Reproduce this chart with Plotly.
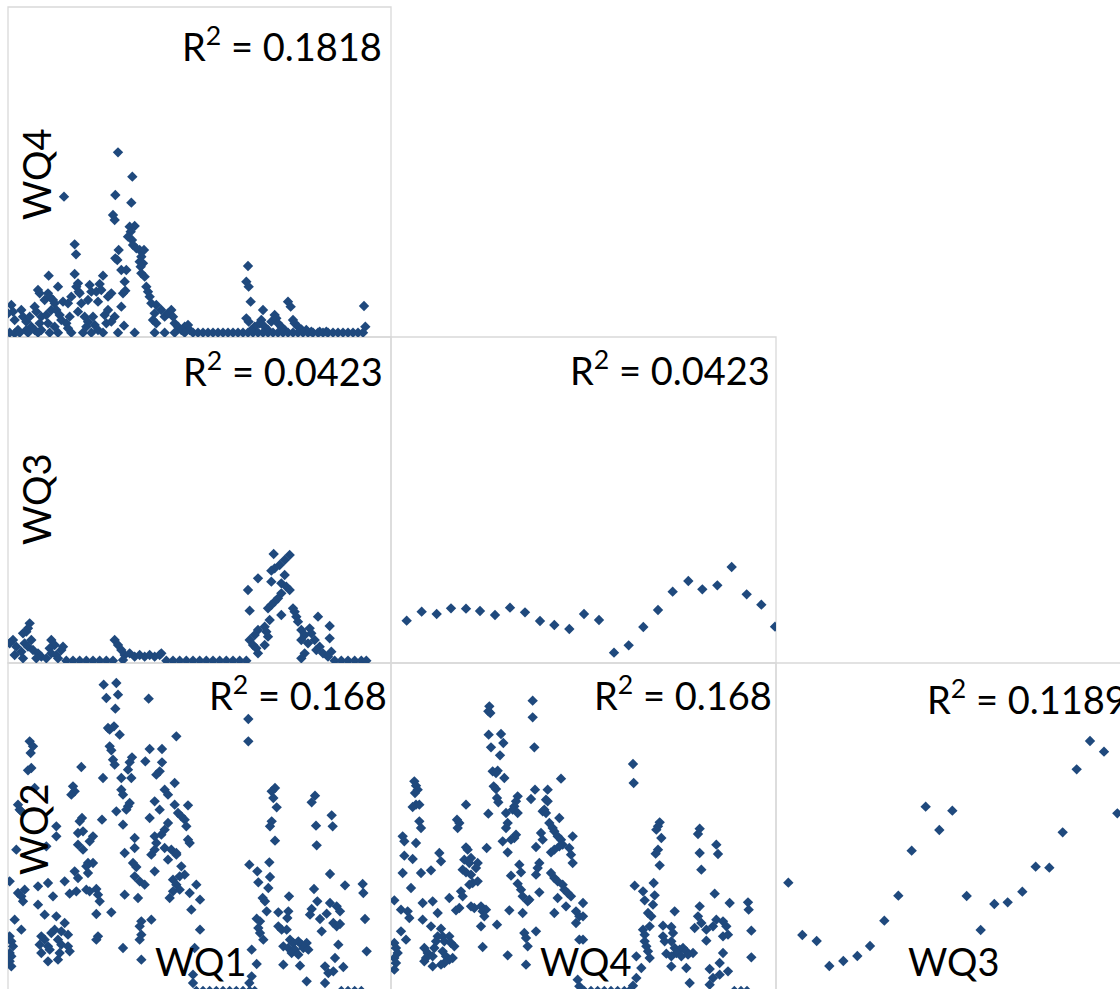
import plotly.graph_objects as go

# ---------------- data (arbitrary units) ----------------
# Panel WQ1 (x) vs WQ4 (y)
wq1_a = [330,373,168,322,370,315,320,
         365,380,368,360,372,375,385,395,408,400,395,405,398,400,410,
         200,204,332,322,328,200,210,205,212,122,150,
         285,275,245,250,265,280,340,355,350,345,352,340,348,
         90,95,120,125,110,135,140,165,180,190,215,220,240,270,300,310,
         415,420,425,430,445,440,435,445,460,470,480,490,495,500,510,520,530,540,545,
         10,15,0,20,40,45,55,65,70,80,85,100,95,100,30,20,115,130,145,155,160,175,180,185,
         210,230,240,235,255,260,270,290,295,300,320,310,120,140,55,80,
         720,715,722,728,715,722,740,730,765,760,755,770,780,790,800,805,810,820,830,
         840,848,855,860,870,880,895,910,935,955,1068,1072,
         555,570,585,600,615,630,645,660,675,690,705,720,735,750,765,780,795,810,825,840,
         855,870,885,900,915,930,945,960,975,990,1005,1020,1035,1050,1065,
         5,35,60,90,125,150,190,225,250,285,330,380,440,470,500,530]
wq4_a = [554,481,421,426,403,366,351,
         331,333,316,301,291,276,266,261,261,241,226,221,211,191,181,
         278,248,261,236,231,189,161,151,136,184,151,
         184,159,156,136,136,141,201,201,166,131,139,91,34,
         141,131,131,121,111,111,101,106,101,121,131,101,111,106,121,131,
         151,136,121,101,96,71,51,41,81,61,71,81,61,41,31,21,31,36,21,
         96,76,71,51,81,61,46,61,31,91,76,61,41,21,21,11,66,81,81,66,51,41,26,61,
         76,61,46,31,61,36,21,66,41,81,61,46,41,31,21,21,
         213,166,151,106,56,46,31,21,81,51,41,31,21,46,66,56,41,31,21,
         106,91,51,41,31,23,21,16,16,16,93,31,
         13,13,13,13,13,13,13,13,13,13,13,13,13,13,13,13,13,13,13,13,
         13,13,13,13,13,13,13,13,13,13,13,13,13,13,13,
         13,13,13,13,13,13,13,13,13,13,13,13,13,13,13,13]

# Panel WQ1 (x) vs WQ3 (y)
wq1_b = [797,845,830,815,800,790,750,790,830,820,835,845,720,820,810,800,790,780,725,820,
         855,860,865,870,930,965,785,770,750,740,725,735,745,750,770,780,775,880,890,905,
         910,880,900,920,935,925,890,880,945,965,970,960,
         65,60,55,45,15,5,25,40,50,60,70,75,90,100,45,130,140,125,130,145,160,165,150,115,85,20,
         320,330,340,350,365,380,395,410,425,440,455,460,345,
         175,195,215,235,255,275,295,315,475,495,515,535,555,575,595,615,635,655,675,695,715,
         980,1000,1020,1040,1060,1075]
wq3_b = [327,324,309,294,284,277,254,244,264,239,229,219,219,209,194,184,174,164,157,144,
         164,154,139,124,139,111,129,109,99,84,69,54,44,29,54,79,94,99,84,104,
         89,69,59,69,49,39,29,14,29,74,34,19,
         119,104,94,89,69,59,49,34,59,49,69,39,29,19,14,69,54,44,29,24,39,49,14,14,14,24,
         69,54,39,24,29,19,24,19,24,19,24,29,9,
         7,7,7,7,7,7,7,7,7,7,7,7,7,7,7,7,7,7,7,7,7,
         7,7,7,7,7,7]

# Panel WQ4 (x) vs WQ3 (y)
wq4_c = [47,92,137,180,225,267,312,357,402,447,490,535,579,624,669,713,757,801,845,892,934,979,1022,1067,1111,1152]
wq3_c = [127,154,147,164,163,156,144,166,152,126,114,102,147,129,31,53,108,159,214,246,221,233,288,206,175,109]

# Panel WQ1 (x) vs WQ2 (y)
wq1_d = [287,325,330,295,322,422,300,318,305,335,505,65,75,68,305,310,425,462,372,365,
         315,320,412,462,455,445,70,60,220,285,340,370,360,500,195,200,190,80,340,345,
         470,480,365,360,355,440,455,500,510,520,540,325,30,35,40,222,215,282,345,425,
         530,535,480,470,460,145,145,210,225,255,245,380,380,350,440,445,440,430,470,490,
         505,540,545,25,115,210,225,240,255,235,375,385,380,395,410,440,480,505,520,530,
         515,495,505,515,495,200,210,240,5,90,120,170,30,50,40,45,135,185,205,235,
         245,265,270,275,350,390,485,545,565,550,90,110,145,265,310,20,40,400,395,430,
         400,395,170,140,160,180,100,110,95,120,130,150,160,180,100,125,155,185,120,150,
         270,265,345,5,10,15,5,10,5,10,400,560,555,555,
         721,721,801,791,796,806,791,786,801,921,911,971,924,974,926,724,748,784,751,786,
         781,966,1011,1064,1066,918,843,764,771,776,811,841,838,928,911,906,936,966,986,996,
         956,746,756,751,811,821,836,756,766,846,856,871,881,896,826,841,861,886,901,851,
         871,941,976,986,996,1071,991,981,1006,976,951,961,1076,731,746,826,876,731,724,896,
         951,576,576,
         565,585,605,625,645,665,685,705,725,740,1000,1020,1040,1060]
wq2_d = [913,918,883,873,841,871,783,788,778,763,758,743,728,708,728,716,720,720,695,680,
         688,673,683,680,653,643,663,656,666,633,633,633,658,618,608,593,583,603,598,583,
         598,583,558,548,538,563,538,553,528,518,551,533,553,538,533,513,503,508,493,513,
         508,488,498,478,463,488,458,468,473,458,443,453,423,408,458,438,418,403,423,418,
         408,448,438,418,428,433,418,378,378,368,378,366,338,323,313,353,388,403,368,343,
         338,328,313,298,293,353,333,348,323,308,318,323,288,298,278,263,278,286,293,298,
         293,300,283,263,283,273,273,288,313,238,253,223,218,225,230,208,178,203,188,208,
         163,148,198,178,173,163,158,148,133,128,168,148,133,128,108,118,108,113,83,88,
         158,148,123,158,143,128,108,98,83,68,88,123,43,18,
         810,743,603,593,573,545,503,488,445,580,560,521,490,488,431,373,353,380,320,336,
         303,345,311,315,288,300,278,273,263,233,230,233,213,263,240,223,210,258,248,233,
         226,211,203,183,188,178,178,168,148,148,138,143,133,138,128,123,118,123,118,108,
         103,173,198,188,195,210,133,93,66,53,68,48,113,118,75,73,70,38,18,23,
         18,268,178,
         -6,-6,-6,-6,-6,-6,-6,-6,-6,-6,-6,-6,-6,-6]

# Panel WQ4 (x) vs WQ2 (y)
wq4_e = [295,292,298,425,425,430,293,330,300,337,327,305,320,315,340,510,70,75,80,72,
         75,85,65,308,315,432,470,420,465,470,460,455,465,380,375,370,365,380,318,322,
         225,292,345,505,85,90,198,205,200,350,345,475,485,490,35,40,75,375,370,360,
         335,450,455,500,510,515,545,287,435,225,230,505,490,480,535,540,545,350,145,150,
         40,65,220,240,235,260,255,445,440,435,385,390,90,120,35,215,225,240,245,260,
         235,360,380,390,395,410,415,480,490,500,515,520,530,540,500,525,60,210,215,175,
         205,195,240,250,270,275,285,280,445,10,30,50,55,95,125,140,95,120,150,355,
         395,490,555,565,555,270,318,30,45,10,15,20,10,15,10,100,110,105,125,100,
         140,135,130,155,160,175,180,190,155,165,175,185,160,150,125,275,400,405,410,435,
         350,405,565,560,565,
         726,728,806,801,796,811,801,794,806,926,921,976,926,981,931,731,756,788,761,791,
         786,971,1016,1071,1073,926,851,771,781,776,816,841,846,921,931,911,946,946,976,996,
         1006,966,996,1011,756,761,761,816,821,841,766,771,851,866,876,886,856,871,891,906,
         826,841,776,996,1081,1081,986,1011,986,956,966,736,751,841,886,736,726,896,956,576,
         576,576,
         580,600,620,640,660,680,700,715,1030,1050,1068]
wq2_e = [848,833,828,865,815,725,763,765,725,738,701,653,655,648,633,631,623,610,598,588,
         553,553,546,608,600,598,598,570,568,563,538,533,528,578,563,548,538,528,573,560,
         553,526,528,513,503,483,508,498,483,498,483,498,483,473,458,443,438,463,453,448,
         443,468,448,458,448,433,458,423,426,425,418,428,418,410,423,403,378,410,408,383,
         400,390,388,393,378,378,363,378,363,343,373,350,348,356,348,358,350,343,318,323,
         313,340,316,298,278,263,268,348,333,323,313,298,288,278,273,248,303,293,278,273,
         243,236,248,243,248,233,238,218,290,266,238,233,213,258,263,228,208,188,181,236,
         228,228,233,218,198,188,193,173,148,138,123,108,93,78,58,123,108,93,98,83,
         158,143,123,158,143,158,138,128,113,98,88,93,78,73,68,126,168,153,128,173,
         101,73,148,28,8,
         675,618,500,488,478,453,418,406,371,481,465,433,408,405,358,310,293,318,266,281,
         253,286,258,260,238,248,233,228,218,188,190,186,168,218,198,183,178,145,208,203,
         188,188,158,163,178,163,143,158,143,143,128,113,123,118,123,113,108,98,103,108,
         106,98,93,108,175,95,78,53,43,60,33,98,63,68,63,33,10,18,13,258,
         218,148,
         -6,-6,-6,-6,-6,-6,-6,-6,-6,-6,-6]

# Panel WQ3 (x) vs WQ2 (y)
wq3_f = [37,79,122,160,202,244,282,325,367,407,449,490,529,572,614,655,695,739,779,820,860,902,942,984,1024]
wq2_f = [319,162,144,69,84,99,129,205,280,415,547,477,535,279,177,255,260,292,367,364,470,659,744,712,527]

r2_labels = ["R<sup>2</sup> = 0.1818", "R<sup>2</sup> = 0.0423", "R<sup>2</sup> = 0.0423",
             "R<sup>2</sup> = 0.168", "R<sup>2</sup> = 0.168", "R<sup>2</sup> = 0.1189"]
row_labels = ["WQ4", "WQ3", "WQ2"]
col_labels = ["WQ1", "WQ4", "WQ3"]

# ---------------- layout helpers ----------------
W, H = 1120, 989
def px(x):
    return x / W
def py(y):
    return 1 - y / H

# panels: (x data, y data, x pixel domain, y pixel domain (top,bottom), x range, y range)
panels = [
    (wq1_a, wq4_a, (8, 391), (7, 337), (0, 1149), (0, 990)),
    (wq1_b, wq3_b, (8, 391), (337, 663), (0, 1149), (0, 978)),
    (wq4_c, wq3_c, (391, 776), (337, 663), (0, 1155), (0, 978)),
    (wq1_d, wq2_d, (8, 391), (663, 989), (0, 1149), (0, 978)),
    (wq4_e, wq2_e, (391, 776), (663, 989), (0, 1155), (0, 978)),
    (wq3_f, wq2_f, (776, 1120), (663, 989), (0, 1032), (0, 978)),
]

COLOR = "#1F497D"
fig = go.Figure()
layout_axes = {}
for i, (xs, ys, xd, yd, xr, yr) in enumerate(panels, start=1):
    sfx = "" if i == 1 else str(i)
    fig.add_trace(go.Scatter(
        x=xs, y=ys, mode="markers", xaxis="x" + sfx, yaxis="y" + sfx,
        marker=dict(symbol="diamond", size=8, color=COLOR, line=dict(width=0)),
        showlegend=False, hoverinfo="skip"))
    layout_axes["xaxis" + sfx] = dict(domain=[px(xd[0]), px(xd[1])], range=list(xr),
                                       visible=False, anchor="y" + sfx, fixedrange=True)
    layout_axes["yaxis" + sfx] = dict(domain=[py(yd[1]), py(yd[0])], range=list(yr),
                                       visible=False, anchor="x" + sfx, fixedrange=True)

# panel borders
shapes = []
border_boxes = [(8, 391, 7, 337), (8, 391, 337, 663), (391, 776, 337, 663),
                (8, 391, 663, 995), (391, 776, 663, 995), (776, 1165, 663, 995)]
for x0, x1, y0, y1 in border_boxes:
    shapes.append(dict(type="rect", xref="paper", yref="paper",
                       x0=px(x0), x1=px(x1), y0=py(y1), y1=py(y0),
                       line=dict(color="#D9D9D9", width=1.3), fillcolor="rgba(0,0,0,0)",
                       layer="below"))

FONT = dict(family="Lato, 'Open Sans', sans-serif", size=38, color="black")
ann = []
# R² labels: (x, y, xanchor)
r2_pos = [(384, 44, "right"), (385, 369, "right"), (772, 368, "right"),
          (389, 693, "right"), (774, 693, "right"), (925, 697, "left")]
for txt, (x, y, xa) in zip(r2_labels, r2_pos):
    ann.append(dict(text=txt, x=px(x), y=py(y), xref="paper", yref="paper",
                    xanchor=xa, yanchor="middle", showarrow=False, font=FONT))
# row labels (rotated)
for txt, (x, y) in zip(row_labels, [(36, 175), (36, 500), (33, 830)]):
    ann.append(dict(text=txt, x=px(x), y=py(y), xref="paper", yref="paper",
                    xanchor="center", yanchor="middle", textangle=-90,
                    showarrow=False, font=FONT))
# column labels
for txt, (x, y) in zip(col_labels, [(200, 961), (585, 961), (953, 961)]):
    ann.append(dict(text=txt, x=px(x), y=py(y), xref="paper", yref="paper",
                    xanchor="center", yanchor="middle", showarrow=False, font=FONT))

fig.update_layout(
    width=W, height=H, margin=dict(l=0, r=0, t=0, b=0),
    paper_bgcolor="white", plot_bgcolor="rgba(0,0,0,0)",
    shapes=shapes, annotations=ann, showlegend=False,
    **layout_axes)

fig.write_html("out.html", config={"displayModeBar": False})
